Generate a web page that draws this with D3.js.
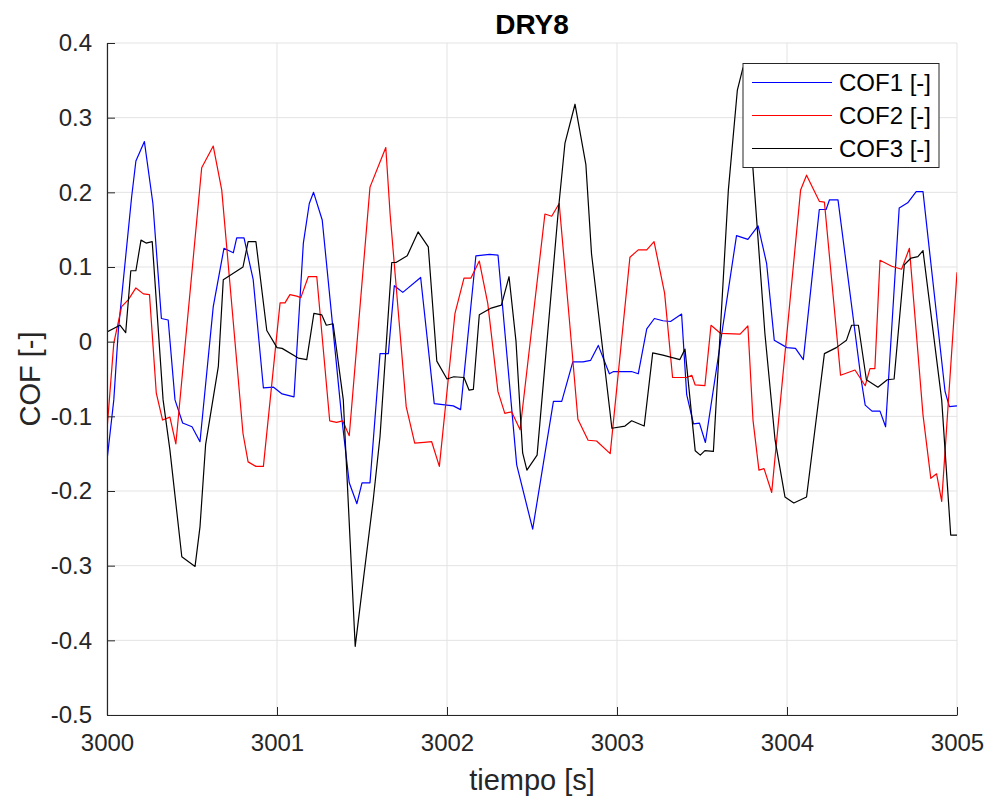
<!DOCTYPE html>
<html>
<head>
<meta charset="utf-8">
<script src="https://cdn.jsdelivr.net/npm/d3@7"></script>
<style>
  html, body { margin: 0; padding: 0; background: #fff; }
  svg { display: block; font-family: "Liberation Sans", Arial, Helvetica, sans-serif; }
</style>
</head>
<body>
<svg id="chart" width="991" height="803"></svg>
<script>
// Coefficient of friction traces, DRY8 test, 3000–3005 s
const t1 = [3000.0,3000.04,3000.067,3000.145,3000.17,3000.22,3000.27,3000.32,3000.36,3000.4,3000.445,3000.5,3000.547,3000.625,3000.688,3000.743,3000.763,3000.806,3000.86,3000.92,3000.98,3001.03,3001.1,3001.155,3001.19,3001.215,3001.266,3001.38,3001.425,3001.47,3001.5,3001.547,3001.606,3001.655,3001.69,3001.74,3001.845,3001.925,3002.037,3002.08,3002.17,3002.25,3002.3,3002.41,3002.504,3002.626,3002.675,3002.74,3002.8,3002.845,3002.89,3002.955,3002.98,3003.085,3003.125,3003.175,3003.22,3003.27,3003.315,3003.38,3003.41,3003.45,3003.485,3003.52,3003.703,3003.77,3003.83,3003.88,3003.925,3004.0,3004.05,3004.096,3004.19,3004.23,3004.25,3004.3,3004.435,3004.46,3004.5,3004.547,3004.58,3004.66,3004.71,3004.76,3004.8,3004.84,3004.93,3004.955,3005.0];
const cof1 = [-0.159,-0.078,0.016,0.194,0.242,0.268,0.185,0.031,0.029,-0.078,-0.109,-0.114,-0.134,0.047,0.125,0.119,0.139,0.139,0.083,-0.062,-0.061,-0.070,-0.074,0.132,0.185,0.200,0.163,-0.100,-0.189,-0.217,-0.189,-0.189,-0.016,-0.016,0.075,0.066,0.086,-0.083,-0.086,-0.091,0.115,0.117,0.116,-0.165,-0.251,-0.080,-0.080,-0.027,-0.027,-0.025,-0.005,-0.043,-0.040,-0.040,-0.043,0.017,0.031,0.028,0.027,0.037,-0.071,-0.110,-0.109,-0.135,0.142,0.137,0.155,0.105,0.002,-0.008,-0.009,-0.024,0.177,0.177,0.190,0.190,-0.049,-0.085,-0.093,-0.093,-0.114,0.179,0.186,0.201,0.201,0.118,-0.067,-0.087,-0.086];

const t2 = [3000.0,3000.04,3000.086,3000.125,3000.17,3000.214,3000.25,3000.29,3000.327,3000.37,3000.405,3000.557,3000.625,3000.675,3000.8,3000.83,3000.876,3000.92,3001.018,3001.047,3001.076,3001.116,3001.14,3001.184,3001.234,3001.31,3001.35,3001.386,3001.425,3001.547,3001.64,3001.665,3001.76,3001.81,3001.865,3001.91,3001.955,3002.047,3002.1,3002.14,3002.19,3002.24,3002.3,3002.34,3002.38,3002.43,3002.576,3002.616,3002.66,3002.72,3002.77,3002.83,3002.88,3002.96,3003.076,3003.125,3003.175,3003.218,3003.28,3003.327,3003.41,3003.44,3003.46,3003.517,3003.553,3003.61,3003.724,3003.77,3003.8,3003.835,3003.865,3003.91,3004.08,3004.115,3004.19,3004.22,3004.315,3004.4,3004.46,3004.488,3004.517,3004.547,3004.616,3004.674,3004.72,3004.8,3004.846,3004.88,3004.91,3005.0];
const cof2 = [-0.118,-0.002,0.047,0.056,0.072,0.064,0.063,-0.069,-0.105,-0.101,-0.137,0.233,0.262,0.203,-0.123,-0.161,-0.167,-0.167,0.052,0.052,0.063,0.061,0.059,0.087,0.087,-0.106,-0.108,-0.106,-0.126,0.207,0.260,0.172,-0.087,-0.136,-0.135,-0.134,-0.167,0.038,0.085,0.085,0.108,0.051,-0.067,-0.096,-0.094,-0.118,0.171,0.168,0.185,0.029,-0.104,-0.132,-0.133,-0.150,0.113,0.123,0.123,0.134,0.065,-0.048,-0.048,-0.045,-0.058,-0.059,0.022,0.011,0.010,0.021,-0.105,-0.172,-0.170,-0.202,0.203,0.223,0.188,0.187,-0.045,-0.038,-0.059,-0.036,-0.036,0.109,0.101,0.097,0.125,-0.098,-0.183,-0.177,-0.214,0.093];

const t3 = [3000.0,3000.076,3000.11,3000.14,3000.17,3000.2,3000.23,3000.266,3000.33,3000.37,3000.44,3000.518,3000.547,3000.58,3000.655,3000.684,3000.8,3000.83,3000.876,3000.94,3001.0,3001.03,3001.125,3001.175,3001.217,3001.263,3001.29,3001.33,3001.39,3001.46,3001.51,3001.566,3001.606,3001.675,3001.7,3001.766,3001.83,3001.89,3001.94,3002.0,3002.04,3002.1,3002.13,3002.155,3002.19,3002.26,3002.32,3002.365,3002.406,3002.445,3002.47,3002.53,3002.655,3002.694,3002.753,3002.817,3002.85,3002.97,3003.047,3003.086,3003.16,3003.21,3003.27,3003.37,3003.4,3003.46,3003.49,3003.517,3003.567,3003.655,3003.708,3003.74,3003.755,3003.87,3003.93,3003.988,3004.04,3004.115,3004.22,3004.29,3004.35,3004.38,3004.42,3004.467,3004.535,3004.59,3004.63,3004.69,3004.73,3004.77,3004.8,3004.91,3004.963,3005.0];
const cof3 = [0.013,0.022,0.012,0.095,0.095,0.136,0.132,0.134,-0.078,-0.145,-0.288,-0.301,-0.248,-0.138,-0.033,0.083,0.100,0.134,0.134,0.015,-0.008,-0.009,-0.022,-0.024,0.038,0.036,0.022,0.024,-0.078,-0.408,-0.315,-0.212,-0.127,0.106,0.106,0.115,0.147,0.127,-0.026,-0.050,-0.047,-0.048,-0.065,-0.064,0.036,0.045,0.049,0.087,0.000,-0.149,-0.172,-0.152,0.176,0.266,0.318,0.237,0.118,-0.116,-0.113,-0.106,-0.113,-0.015,-0.018,-0.024,-0.010,-0.146,-0.152,-0.146,-0.147,0.203,0.337,0.366,0.372,0.011,-0.132,-0.208,-0.216,-0.208,-0.016,-0.008,0.002,0.022,0.022,-0.051,-0.061,-0.051,-0.050,0.103,0.112,0.114,0.122,-0.078,-0.259,-0.259];

const seriesNames = ["COF1 [-]", "COF2 [-]", "COF3 [-]"];
const seriesColors = ["#0000ff", "#ff0000", "#000000"];
const xTicks = [3000, 3001, 3002, 3003, 3004, 3005];
const yTicks = [-0.5, -0.4, -0.3, -0.2, -0.1, 0, 0.1, 0.2, 0.3, 0.4];
const chartTitle = "DRY8";
const xLabel = "tiempo [s]";
const yLabel = "COF [-]";

const series = [
  { name: seriesNames[0], color: seriesColors[0], t: t1, v: cof1 },
  { name: seriesNames[1], color: seriesColors[1], t: t2, v: cof2 },
  { name: seriesNames[2], color: seriesColors[2], t: t3, v: cof3 }
];

const svg = d3.select("#chart");
const margin = { left: 107, right: 34, top: 43, bottom: 88 };
const W = 991, H = 803;
const iw = W - margin.left - margin.right;
const ih = H - margin.top - margin.bottom;

const x = d3.scaleLinear().domain([3000, 3005]).range([0, iw]);
const y = d3.scaleLinear().domain([-0.5, 0.4]).range([ih, 0]);

const g = svg.append("g").attr("transform", `translate(${margin.left},${margin.top})`);

// grid
g.append("g").selectAll("line").data(xTicks).join("line")
  .attr("x1", d => x(d)).attr("x2", d => x(d)).attr("y1", 0).attr("y2", ih)
  .attr("stroke", "#e3e3e3").attr("stroke-width", 1);
g.append("g").selectAll("line").data(yTicks).join("line")
  .attr("y1", d => y(d)).attr("y2", d => y(d)).attr("x1", 0).attr("x2", iw)
  .attr("stroke", "#e3e3e3").attr("stroke-width", 1);

// data lines, clipped to the axes area
svg.append("defs").append("clipPath").attr("id", "clip")
  .append("rect").attr("x", 0).attr("y", 0).attr("width", iw).attr("height", ih);

const line = d3.line().x(d => x(d[0])).y(d => y(d[1]));
const lines = g.append("g").attr("clip-path", "url(#clip)");
series.forEach(s => {
  lines.append("path")
    .datum(s.t.map((tt, i) => [tt, s.v[i]]))
    .attr("fill", "none")
    .attr("stroke", s.color)
    .attr("stroke-width", 1.2)
    .attr("stroke-linejoin", "round")
    .attr("d", line);
});

// axes with inward ticks; plain hyphen for negative labels
const fmtY = d => d === 0 ? "0" : d3.format(".1f")(d).replace("\u2212", "-");
const xAxis = g.append("g").attr("transform", `translate(0,${ih})`)
  .call(d3.axisBottom(x).tickValues(xTicks).tickFormat(d3.format("d")).tickSizeInner(-8).tickSizeOuter(0).tickPadding(19));
const yAxis = g.append("g")
  .call(d3.axisLeft(y).tickValues(yTicks).tickFormat(fmtY).tickSizeInner(-8).tickSizeOuter(0).tickPadding(15));
[xAxis, yAxis].forEach(a => {
  a.select(".domain").attr("stroke", "#262626").attr("stroke-width", 1.2);
  a.selectAll(".tick line").attr("stroke", "#262626").attr("stroke-width", 1);
  a.selectAll(".tick text").attr("fill", "#262626").attr("font-size", 24)
    .attr("font-family", "'Liberation Sans', Arial, sans-serif");
});
xAxis.selectAll(".tick text").attr("dy", "0.71em");

// title and axis labels
svg.append("text").attr("x", margin.left + iw / 2).attr("y", 34)
  .attr("text-anchor", "middle").attr("font-size", 28).attr("font-weight", "bold")
  .attr("fill", "#000").text(chartTitle);
svg.append("text").attr("x", margin.left + iw / 2).attr("y", 790)
  .attr("text-anchor", "middle").attr("font-size", 29).attr("fill", "#262626").text(xLabel);
svg.append("text").attr("transform", `translate(40,${margin.top + ih / 2}) rotate(-90)`)
  .attr("text-anchor", "middle").attr("font-size", 29).attr("fill", "#262626").text(yLabel);

// legend
const lg = svg.append("g").attr("transform", "translate(743,63.5)");
lg.append("rect").attr("x", 0).attr("y", 0).attr("width", 196).attr("height", 104)
  .attr("fill", "#fff").attr("stroke", "#262626").attr("stroke-width", 1);
series.forEach((s, i) => {
  const yy = 19 + i * 33;
  lg.append("line").attr("x1", 9).attr("x2", 89).attr("y1", yy).attr("y2", yy)
    .attr("stroke", s.color).attr("stroke-width", 1.2);
  lg.append("text").attr("x", 96).attr("y", yy).attr("dy", "0.35em")
    .attr("font-size", 24).attr("fill", "#000").text(s.name);
});
</script>
</body>
</html>
